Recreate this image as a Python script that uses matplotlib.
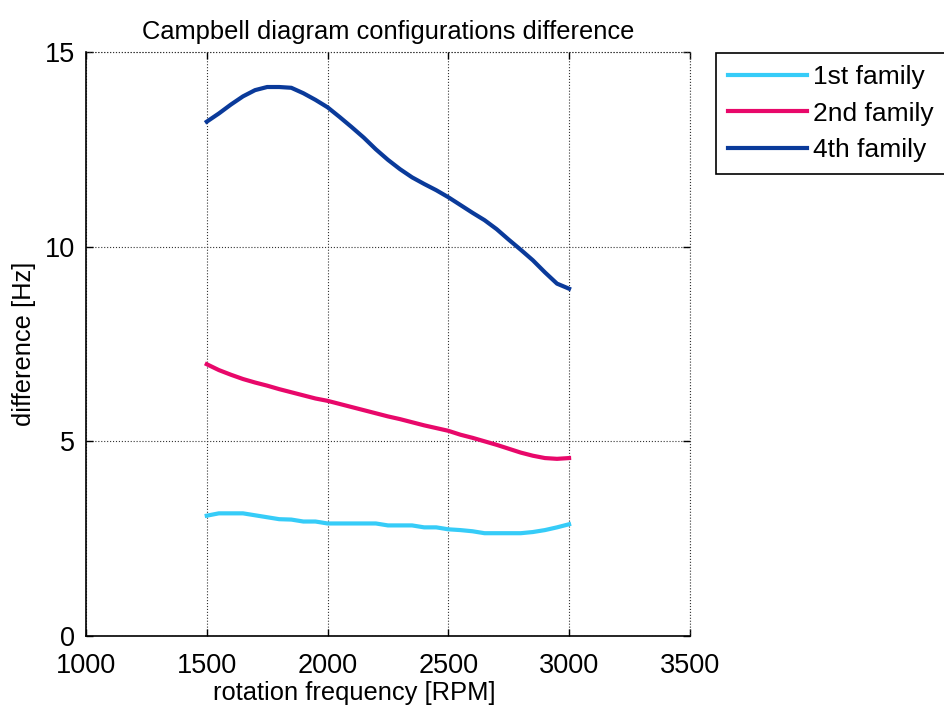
import numpy as np
import matplotlib
matplotlib.use('Agg')
from matplotlib import pyplot as plt

plt.rcParams['font.family'] = ['Liberation Sans', 'DejaVu Sans']

# rotation speed sampled every 50 RPM
rpm = np.arange(1500, 3001, 50)

diff_1st = [3.09, 3.15, 3.15, 3.15, 3.10, 3.05, 3.00, 2.99, 2.94, 2.94,
            2.89, 2.89, 2.89, 2.89, 2.89, 2.84, 2.84, 2.84, 2.79, 2.79,
            2.74, 2.72, 2.69, 2.64, 2.64, 2.64, 2.64, 2.67, 2.72, 2.79, 2.87]
diff_2nd = [6.98, 6.83, 6.71, 6.60, 6.51, 6.43, 6.34, 6.26, 6.18, 6.10,
            6.04, 5.96, 5.88, 5.80, 5.72, 5.64, 5.57, 5.49, 5.41, 5.34,
            5.27, 5.17, 5.09, 5.00, 4.91, 4.81, 4.71, 4.63, 4.57, 4.55, 4.57]
diff_4th = [13.21, 13.42, 13.65, 13.86, 14.02, 14.10, 14.10, 14.08, 13.94, 13.77,
            13.58, 13.33, 13.07, 12.80, 12.50, 12.23, 11.99, 11.78, 11.61, 11.45,
            11.27, 11.07, 10.87, 10.68, 10.45, 10.18, 9.92, 9.65, 9.34, 9.05, 8.92]

labels = ['1st family', '2nd family', '4th family']
colors = ['#36CCF8', '#E8086A', '#0A3A9A']
xticks = [1000, 1500, 2000, 2500, 3000, 3500]
yticks = [0, 5, 10, 15]

fig = plt.figure(figsize=(9.45, 7.11), dpi=100)
ax = fig.add_axes([0.091, 0.1055, 0.639, 0.8214])

for y, lab, c in zip([diff_1st, diff_2nd, diff_4th], labels, colors):
    ax.plot(rpm, y, color=c, linewidth=3.0, label=lab)

ax.set_xlim(1000, 3500)
ax.set_ylim(0, 15)
ax.set_xticks(xticks)
ax.set_yticks(yticks)
ax.tick_params(direction='in', length=5, width=1, top=True, right=True,
               labelsize=19.5)
ax.tick_params(axis='x', pad=12)
ax.tick_params(axis='y', pad=8)
ax.grid(True, linestyle=':', color='#333333', linewidth=0.8)
ax.spines['top'].set_visible(False)
ax.spines['right'].set_visible(False)
ax.spines['left'].set_linewidth(1.2)
ax.spines['bottom'].set_linewidth(1.2)
# grid lines on the outer edges
ax.axhline(15, linestyle=':', color='#333333', linewidth=0.8, clip_on=False)
ax.axvline(3500, linestyle=':', color='#333333', linewidth=0.8, clip_on=False)

ax.set_title('Campbell diagram configurations difference', fontsize=18.4, pad=9)
ax.set_xlabel('rotation frequency [RPM]', fontsize=18.4)
ax.xaxis.set_label_coords(0.444, -0.077)
ax.set_ylabel('difference [Hz]', fontsize=18.4, labelpad=6)

leg = ax.legend(loc='upper left', bbox_to_anchor=(716 / 945, 1 - 53 / 711),
                bbox_transform=fig.transFigure, fontsize=19, handlelength=3.0,
                handletextpad=0.22, borderaxespad=0, fancybox=False,
                edgecolor='black', framealpha=1, borderpad=0.45, labelspacing=0.48)
leg.get_frame().set_linewidth(1.2)

fig.savefig('out.png', dpi=100)
